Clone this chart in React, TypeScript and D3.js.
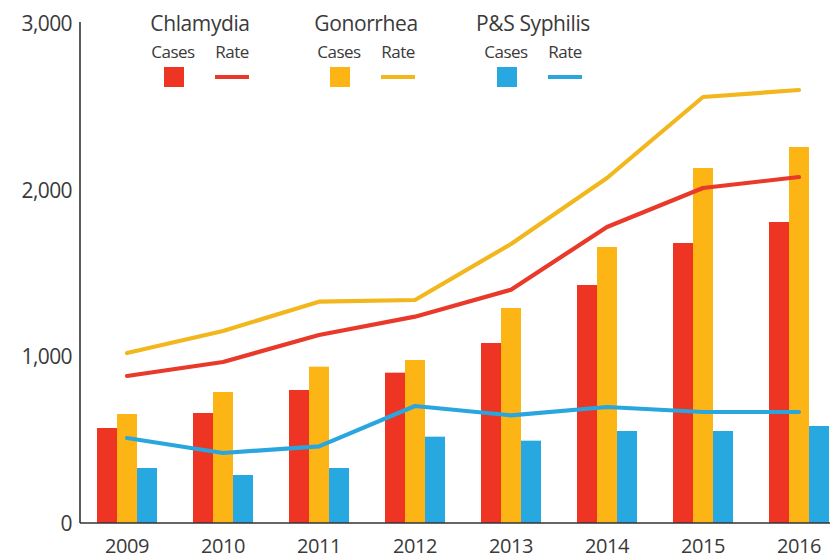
import React from "react";
import * as d3 from "d3";

const years = ["2009", "2010", "2011", "2012", "2013", "2014", "2015", "2016"];
const diseases = ["Chlamydia", "Gonorrhea", "P&S Syphilis"];
const chlamydiaCases = [570, 660, 798, 902, 1080, 1428, 1680, 1806];
const gonorrheaCases = [654, 786, 938, 978, 1290, 1656, 2130, 2256];
const syphilisCases = [330, 288, 330, 518, 494, 552, 552, 582];
const chlamydiaRate = [882, 966, 1128, 1238, 1400, 1776, 2010, 2076];
const gonorrheaRate = [1020, 1152, 1328, 1338, 1674, 2070, 2556, 2598];
const syphilisRate = [510, 420, 460, 702, 646, 696, 666, 666];
const yTicks = [0, 1000, 2000, 3000];

const barColors = ["#EE3524", "#FDB515", "#27A8E0"];
const lineColors = ["#E8392A", "#F2B71C", "#2AA6DE"];
const FONT = "'Open Sans', 'Noto Sans', sans-serif";

export default function App() {
  const W = 830, H = 559;
  const x = d3.scaleBand<string>().domain(years).range([79, 847]).paddingInner(0.375).paddingOuter(0.1875);
  const xs = d3.scaleBand<string>().domain(diseases).range([0, x.bandwidth()]);
  const y = d3.scaleLinear().domain([0, 3000]).range([523, 23]);
  const cases = [chlamydiaCases, gonorrheaCases, syphilisCases];
  const rates = [chlamydiaRate, gonorrheaRate, syphilisRate];
  const cx = (yr: string) => (x(yr) as number) + x.bandwidth() / 2;
  const line = d3.line<number>().x((_, i) => cx(years[i])).y((v) => y(v)).curve(d3.curveLinear);

  const legendX = [150, 316, 483];
  return (
    <svg width={W} height={H} style={{ position: "absolute", left: 0, top: 0, background: "#fff" }}>
      {diseases.map((d, di) =>
        years.map((yr, i) => (
          <rect key={d + yr} x={(x(yr) as number) + (xs(d) as number)} y={y(cases[di][i])}
            width={xs.bandwidth()} height={y(0) - y(cases[di][i])} fill={barColors[di]} />
        ))
      )}
      {diseases.map((d, di) => (
        <path key={d} d={line(rates[di]) || ""} fill="none" stroke={lineColors[di]} strokeWidth={4.2} strokeLinecap="round" strokeLinejoin="round" />
      ))}
      <line x1={80} x2={80} y1={y(3000) - 1} y2={y(0)} stroke="#333" strokeWidth={1.6} />
      <line x1={80} x2={830} y1={y(0)} y2={y(0)} stroke="#333" strokeWidth={1.6} />
      {yTicks.map((t) => (
        <text key={t} x={72} y={y(t)} textAnchor="end" dominantBaseline="central" fontFamily={FONT} fontSize={21} fill="#3a3a3a" letterSpacing={-0.6}>
          {d3.format(",")(t)}
        </text>
      ))}
      {years.map((yr) => (
        <text key={yr} x={cx(yr)} y={545} textAnchor="middle" dominantBaseline="central" fontFamily={FONT} fontSize={20} fill="#3a3a3a" letterSpacing={-0.4}>
          {yr}
        </text>
      ))}
      {diseases.map((d, di) => {
        const lx = legendX[di];
        return (
          <g key={d} transform={`translate(${lx},0)`}>
            <text x={50} y={23} textAnchor="middle" dominantBaseline="central" fontFamily={FONT} fontSize={21} fill="#3a3a3a" letterSpacing={-0.4}>{d}</text>
            <text x={23} y={51} textAnchor="middle" dominantBaseline="central" fontFamily={FONT} fontSize={17} fill="#3a3a3a" letterSpacing={-0.5}>Cases</text>
            <text x={82} y={51} textAnchor="middle" dominantBaseline="central" fontFamily={FONT} fontSize={17} fill="#3a3a3a" letterSpacing={-0.5}>Rate</text>
            <rect x={14} y={67} width={20} height={20} fill={barColors[di]} />
            <line x1={65} x2={99} y1={77} y2={77} stroke={lineColors[di]} strokeWidth={4} />
          </g>
        );
      })}
    </svg>
  );
}
